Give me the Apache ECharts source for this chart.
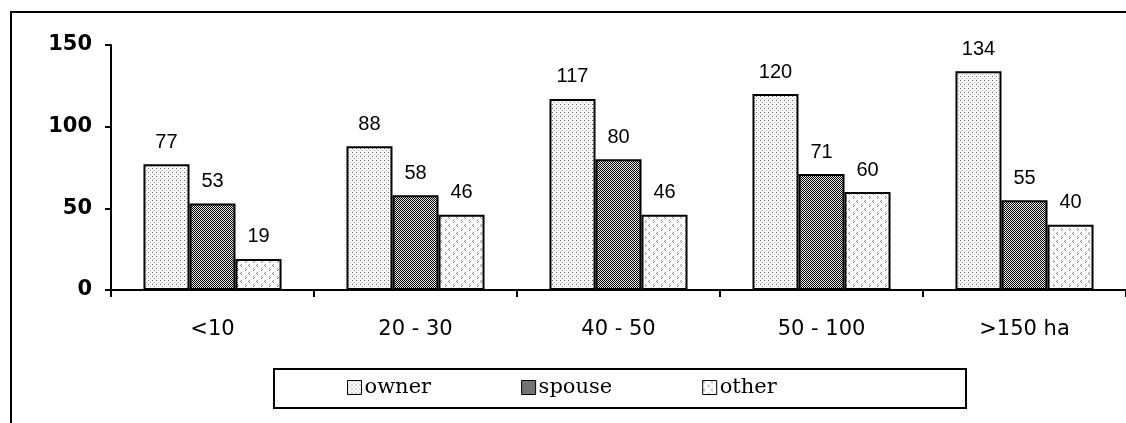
<!DOCTYPE html>
<html><head><meta charset="utf-8">
<script src="https://cdn.jsdelivr.net/npm/echarts@6/dist/echarts.min.js"></script>
<style>html,body{margin:0;padding:0;background:#fff}#c{width:1126px;height:423px}</style>
</head><body><div id="c"></div>
<script>
const categories = ['<10', '20 - 30', '40 - 50', '50 - 100', '>150 ha'];
const owner = [77, 88, 117, 120, 134];
const spouse = [53, 58, 80, 71, 55];
const other = [19, 46, 46, 60, 40];
const seriesNames = ['owner', 'spouse', 'other'];
const yMin = 0, yMax = 150, yStep = 50;

function pat(w, h, draw) {
  const c = document.createElement('canvas');
  c.width = w; c.height = h;
  const g = c.getContext('2d');
  draw(g);
  return { image: c, repeat: 'repeat' };
}
const ownerFill = pat(4, 4, g => {
  g.fillStyle = '#fbfbfb'; g.fillRect(0, 0, 4, 4);
  g.fillStyle = '#666'; g.fillRect(0, 0, 1, 1);
  g.fillStyle = '#aaa'; g.fillRect(2, 2, 1, 1);
});
const spouseFill = pat(2, 2, g => {
  g.fillStyle = '#e6e6e6'; g.fillRect(0, 0, 2, 2);
  g.fillStyle = '#000'; g.fillRect(0, 0, 1, 1); g.fillRect(1, 1, 1, 1);
});
const otherFill = pat(8, 8, g => {
  g.fillStyle = '#fff'; g.fillRect(0, 0, 8, 8);
  g.fillStyle = '#888';
  [[1,0],[0,1],[1,2],[5,4],[6,5],[5,6]].forEach(p => g.fillRect(p[0], p[1], 1, 1));
});
const fills = [ownerFill, spouseFill, otherFill];
const values = [owner, spouse, other];

const chart = echarts.init(document.getElementById('c'), null, { renderer: 'canvas' });
chart.setOption({
  animation: false,
  backgroundColor: '#fff',
  grid: { left: 111, top: 45, width: 1018, height: 245, containLabel: false },
  xAxis: {
    type: 'category',
    data: categories,
    axisLine: { lineStyle: { color: '#000', width: 2 } },
    axisTick: { show: true, length: 7, lineStyle: { color: '#000', width: 2 } },
    axisLabel: { color: '#000', fontFamily: 'DejaVu Sans', fontSize: 21, margin: 29 }
  },
  yAxis: {
    type: 'value',
    min: yMin, max: yMax, interval: yStep,
    axisLine: { show: true, lineStyle: { color: '#000', width: 2 } },
    axisTick: { show: true, length: 6, lineStyle: { color: '#000', width: 2 } },
    splitLine: { show: false },
    axisLabel: { color: '#000', fontFamily: 'DejaVu Sans', fontWeight: 'bold', fontSize: 21, margin: 19 }
  },
  legend: {
    data: seriesNames,
    left: 347, top: 377,
    padding: 0,
    itemGap: 90,
    itemWidth: 14, itemHeight: 14,
    icon: 'rect',
    itemStyle: { borderColor: '#000', borderWidth: 1 },
    textStyle: { color: '#000', fontFamily: 'DejaVu Serif', fontSize: 21, padding: [0, 0, 0, -2] }
  },
  graphic: [
    { type: 'rect', shape: { x: 11, y: 12, width: 1300, height: 600 }, style: { fill: 'none', stroke: '#000', lineWidth: 2 }, silent: true },
    { type: 'rect', shape: { x: 274, y: 369, width: 692, height: 39 }, style: { fill: 'none', stroke: '#000', lineWidth: 2 }, silent: true }
  ],
  series: seriesNames.map((n, i) => ({
    name: n,
    type: 'bar',
    data: values[i],
    barGap: '0%',
    barCategoryGap: '32%',
    itemStyle: { color: fills[i], borderColor: '#000', borderWidth: 2 },
    label: { show: true, position: 'top', distance: 12, color: '#000', fontFamily: 'Liberation Sans, Arial, sans-serif', fontSize: 20 }
  }))
});
</script>
</body></html>
